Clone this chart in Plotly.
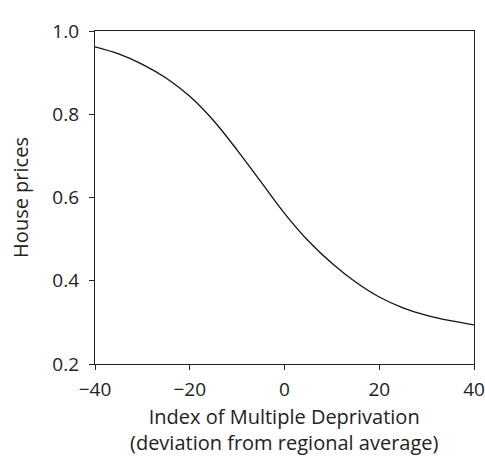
import plotly.graph_objects as go

imd = [-40, -35, -30, -25, -20, -15, -10, -5, 0, 5, 10, 15, 20, 25, 30, 35, 40]
house_prices = [0.962, 0.945, 0.920, 0.887, 0.843, 0.785, 0.714, 0.638, 0.562, 0.496,
                0.442, 0.397, 0.361, 0.335, 0.317, 0.304, 0.294]

x_ticks = [-40, -20, 0, 20, 40]
y_ticks = [0.2, 0.4, 0.6, 0.8, 1.0]
y_tick_labels = ["0.2", "0.4", "0.6", "0.8", "1.0"]
x_title = "Index of Multiple Deprivation<br>(deviation from regional average)"
y_title = "House prices"

fig = go.Figure()
fig.add_trace(go.Scatter(x=imd, y=house_prices, mode="lines",
                         line=dict(color="#111111", width=1.3, shape="spline", smoothing=1),
                         showlegend=False, hoverinfo="skip"))

font_family = "Open Sans, Lato, sans-serif"
axis_common = dict(showgrid=False, zeroline=False, showline=True, linecolor="#222222",
                   linewidth=1.3, mirror=True, ticks="outside", ticklen=5,
                   tickcolor="#222222", tickwidth=1.3, automargin=False,
                   tickfont=dict(family=font_family, size=19, color="#222222"))

fig.update_layout(
    width=485, height=457,
    margin=dict(l=95, r=11, t=31, b=93),
    paper_bgcolor="white", plot_bgcolor="white",
    xaxis=dict(range=[-40, 40], tickvals=x_ticks, ticklabelstandoff=3, **axis_common),
    yaxis=dict(range=[0.2, 1.0], tickvals=y_ticks, ticktext=y_tick_labels, ticklabelstandoff=6,
               title=dict(text=y_title,
                          font=dict(family=font_family, size=20, color="#222222"), standoff=18),
               **axis_common),
)

fig.add_annotation(text=x_title, xref="paper", yref="paper", x=0.5, y=0,
                   xanchor="center", yanchor="top", yshift=-37, showarrow=False,
                   align="center", font=dict(family=font_family, size=20, color="#222222"))

fig.write_html("out.html", config={"displayModeBar": False},
               post_script="document.body.style.margin='0px';document.body.style.overflow='hidden';")
